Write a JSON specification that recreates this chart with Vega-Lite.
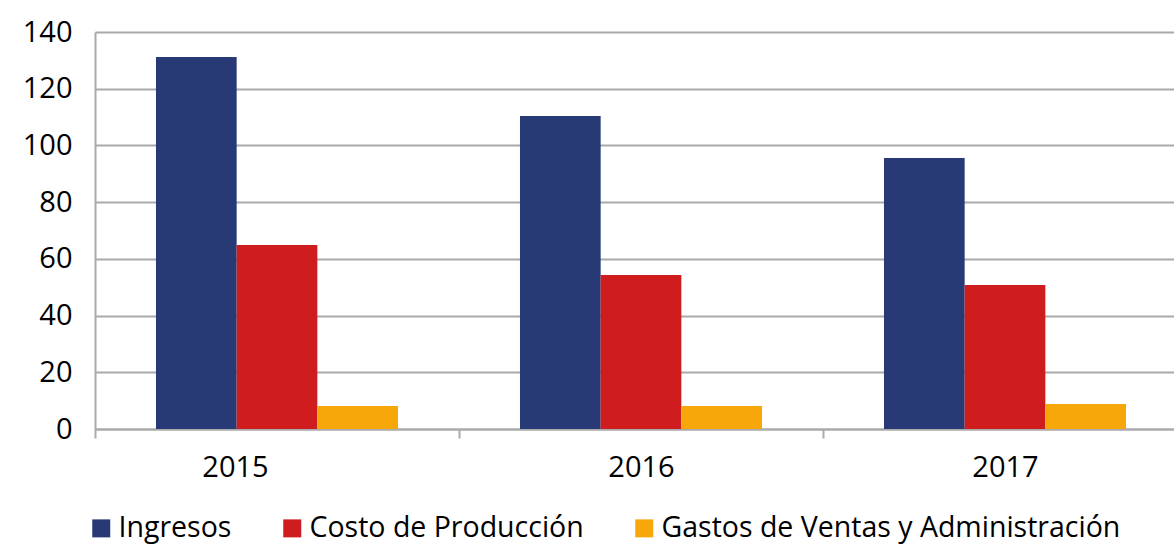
{
  "$schema": "https://vega.github.io/schema/vega-lite/v6.json",
  "width": 1092,
  "height": 397,
  "autosize": {"type": "none"},
  "padding": {"left": 95, "top": 32, "right": 0, "bottom": 115},
  "background": "white",
  "config": {
    "font": "Open Sans",
    "view": {"stroke": null}
  },
  "data": {
    "values": [
      {"year": "2015", "serie": "Ingresos", "valor": 131.2},
      {"year": "2015", "serie": "Costo de Producción", "valor": 64.9},
      {"year": "2015", "serie": "Gastos de Ventas y Administración", "valor": 8.1},
      {"year": "2016", "serie": "Ingresos", "valor": 110.4},
      {"year": "2016", "serie": "Costo de Producción", "valor": 54.3},
      {"year": "2016", "serie": "Gastos de Ventas y Administración", "valor": 8.1},
      {"year": "2017", "serie": "Ingresos", "valor": 95.6},
      {"year": "2017", "serie": "Costo de Producción", "valor": 50.8},
      {"year": "2017", "serie": "Gastos de Ventas y Administración", "valor": 8.8}
    ]
  },
  "mark": {"type": "bar"},
  "encoding": {
    "x": {
      "field": "year",
      "type": "nominal",
      "scale": {"paddingInner": 0, "paddingOuter": 0},
      "axis": {
        "title": null,
        "labelAngle": 0,
        "labelFontSize": 29,
        "labelColor": "#000000",
        "labelPadding": 15,
        "labelOffset": {"condition": {"test": "datum.value == '2015'", "value": -42}, "value": 0},
        "tickBand": "extent",
        "tickSize": 9,
        "tickWidth": 2,
        "tickColor": "#aaaaaa",
        "domainColor": "#aaaaaa",
        "domainWidth": 2,
        "grid": false
      }
    },
    "xOffset": {
      "field": "serie",
      "type": "nominal",
      "sort": ["Ingresos", "Costo de Producción", "Gastos de Ventas y Administración"],
      "scale": {"paddingInner": 0, "paddingOuter": 0.756}
    },
    "y": {
      "field": "valor",
      "type": "quantitative",
      "scale": {"domain": [0, 140]},
      "axis": {
        "title": null,
        "values": [0, 20, 40, 60, 80, 100, 120, 140],
        "labelFontSize": 29,
        "labelColor": "#000000",
        "labelPadding": 23,
        "ticks": false,
        "domainColor": "#aaaaaa",
        "domainWidth": 2,
        "gridColor": "#aaaaaa",
        "gridWidth": 2
      }
    },
    "color": {
      "field": "serie",
      "type": "nominal",
      "sort": ["Ingresos", "Costo de Producción", "Gastos de Ventas y Administración"],
      "scale": {
        "domain": ["Ingresos", "Costo de Producción", "Gastos de Ventas y Administración"],
        "range": ["#283a76", "#cf1c1f", "#f7a70a"]
      },
      "legend": {
        "title": null,
        "orient": "none",
        "legendX": -8,
        "legendY": 482,
        "direction": "horizontal",
        "symbolType": "square",
        "symbolSize": 324,
        "symbolStrokeWidth": 0,
        "labelFontSize": 28.5,
        "labelColor": "#000000",
        "labelOffset": 3,
        "columnPadding": 46,
        "labelLimit": 600
      }
    }
  }
}
